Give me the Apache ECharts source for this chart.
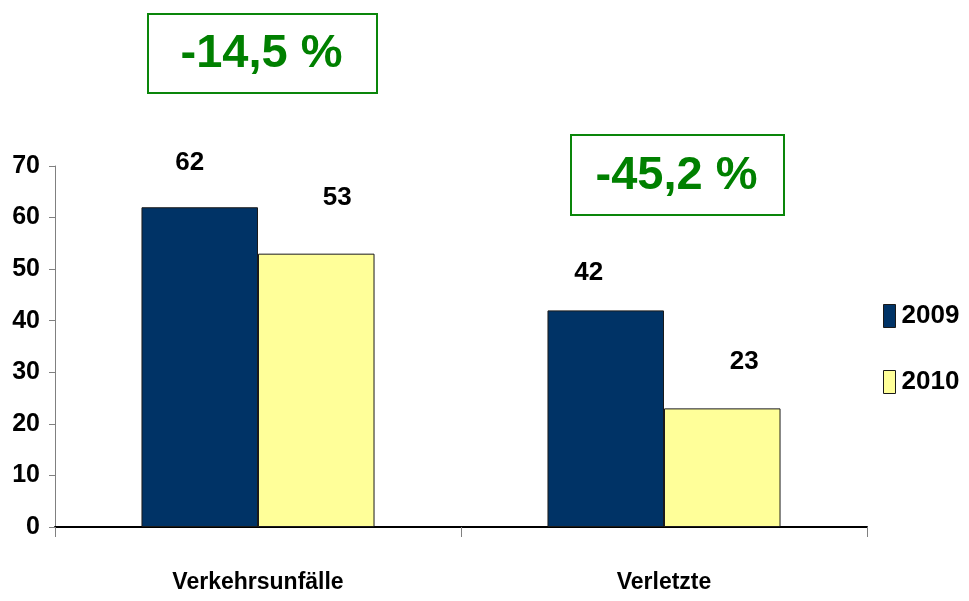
<!DOCTYPE html>
<html>
<head>
<meta charset="utf-8">
<script src="https://cdn.jsdelivr.net/npm/echarts@6/dist/echarts.min.js"></script>
<style>
  html, body { margin: 0; padding: 0; background: #ffffff; }
  #chart { width: 969px; height: 601px; }
</style>
</head>
<body>
<div id="chart"></div>
<script>
const categories = ['Verkehrsunfälle', 'Verletzte']
const years = ['2009', '2010']
const values2009 = [62, 42]
const values2010 = [53, 23]
const changeLabels = ['-14,5 %', '-45,2 %']
const yTicks = { min: 0, max: 70, interval: 10 }

// label placement, as in the original slide (distance above bar, x shift)
const labelPos2009 = [{ d: 31, dx: -10 }, { d: 25, dx: -17 }]
const labelPos2010 = [{ d: 43, dx: 21 }, { d: 34, dx: 22 }]

const font = '"Liberation Sans", Arial, sans-serif'
const chart = echarts.init(document.getElementById('chart'))

// green boxes with the percentage change
const boxes = [
  { x: 147, y: 13, w: 229, h: 79 },
  { x: 570, y: 134, w: 213, h: 80 }
]
const graphic = boxes.map((b, i) => ({
  type: 'group',
  left: b.x,
  top: b.y,
  children: [
    {
      type: 'rect',
      shape: { x: 0, y: 0, width: b.w, height: b.h },
      style: { fill: '#ffffff', stroke: '#0a860a', lineWidth: 2 }
    },
    {
      type: 'text',
      x: b.w / 2 - 1,
      y: b.h / 2 + 1,
      style: {
        text: changeLabels[i],
        fill: '#008000',
        font: 'bold 47px ' + font,
        align: 'center',
        verticalAlign: 'middle'
      }
    }
  ]
}))

const labelStyle = {
  show: true,
  position: 'top',
  fontFamily: font,
  fontWeight: 'bold',
  fontSize: 26,
  color: '#000000'
}

const withLabels = (values, pos) => values.map((v, i) => ({
  value: v,
  label: { distance: pos[i].d, offset: [pos[i].dx, 0] }
}))

const option = {
  animation: false,
  grid: { left: 55, right: 102, top: 166, bottom: 74 },
  legend: {
    data: years,
    orient: 'vertical',
    left: 878,
    top: 298,
    itemWidth: 12,
    itemHeight: 23,
    itemGap: 40,
    icon: 'rect',
    itemStyle: { borderColor: '#1a1a1a', borderWidth: 1 },
    textStyle: {
      fontFamily: font,
      fontWeight: 'bold',
      fontSize: 26,
      color: '#000000',
      lineHeight: 23,
      padding: [0, 0, 0, 1]
    }
  },
  xAxis: {
    type: 'category',
    data: categories,
    axisLine: { lineStyle: { color: '#000000', width: 2 } },
    axisTick: { show: true, length: 10, lineStyle: { color: '#808080' } },
    axisLabel: {
      margin: 44,
      fontFamily: font,
      fontWeight: 'bold',
      fontSize: 23,
      color: '#000000'
    }
  },
  yAxis: {
    type: 'value',
    min: yTicks.min,
    max: yTicks.max,
    interval: yTicks.interval,
    axisLine: { show: true, lineStyle: { color: '#808080', width: 1 } },
    axisTick: { show: true, length: 6, lineStyle: { color: '#808080' } },
    splitLine: { show: false },
    axisLabel: {
      margin: 15,
      fontFamily: font,
      fontWeight: 'bold',
      fontSize: 25,
      color: '#000000'
    }
  },
  series: [
    {
      name: years[0],
      type: 'bar',
      data: withLabels(values2009, labelPos2009),
      barGap: '0%',
      barCategoryGap: '42.6%',
      itemStyle: { color: '#003366', borderColor: '#1a1a1a', borderWidth: 1 },
      label: labelStyle
    },
    {
      name: years[1],
      type: 'bar',
      data: withLabels(values2010, labelPos2010),
      barGap: '0%',
      barCategoryGap: '42.6%',
      itemStyle: { color: '#FFFF99', borderColor: '#1a1a1a', borderWidth: 1 },
      label: labelStyle
    }
  ],
  graphic
}

chart.setOption(option)
</script>
</body>
</html>
